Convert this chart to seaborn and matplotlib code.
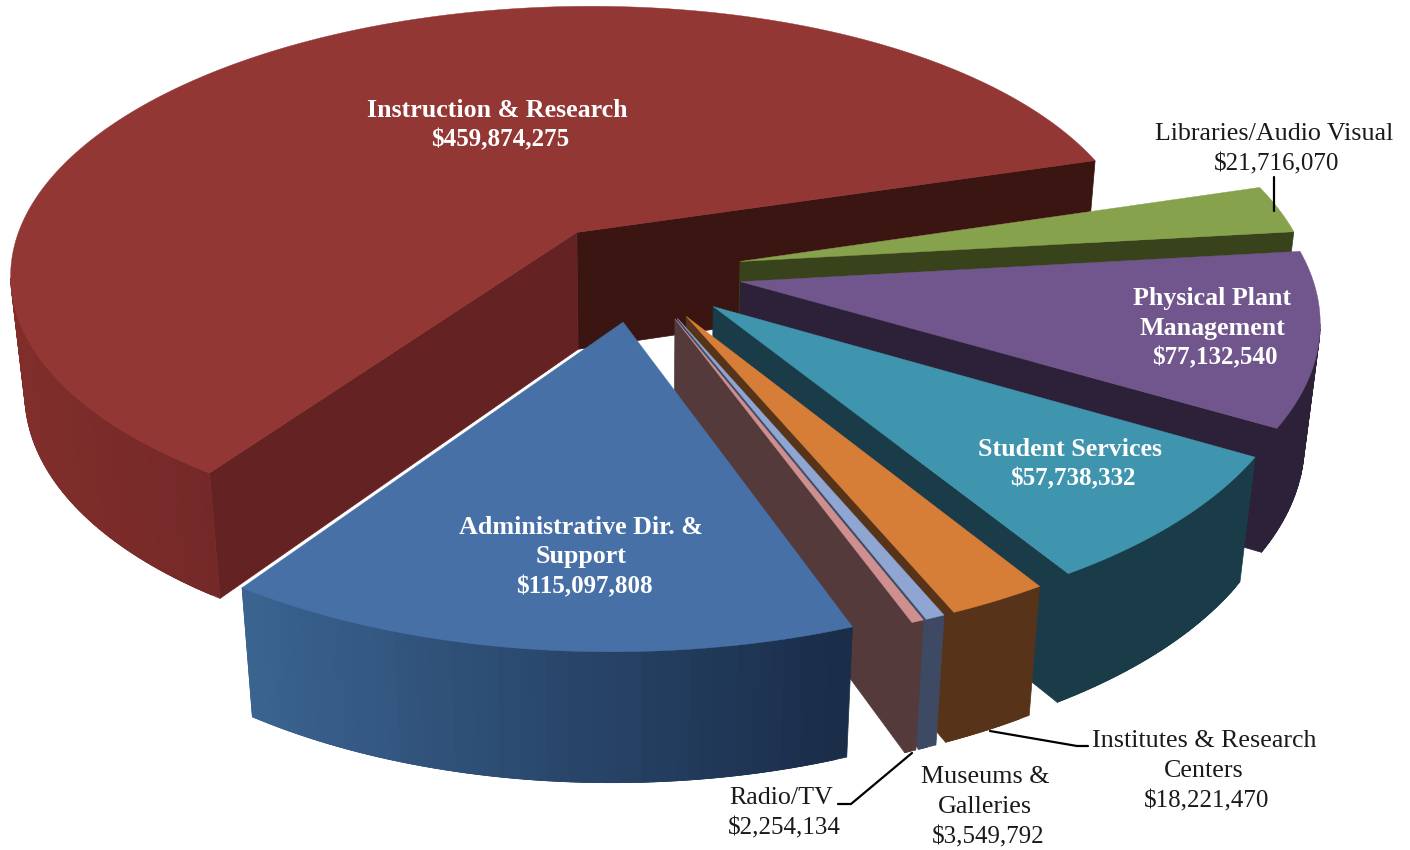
"""Pastel 3D explotado de gastos, dibujado con matplotlib y colores de seaborn."""

import numpy as np
import matplotlib.pyplot as plt
import seaborn as sns

# --- Datos (sentido horario desde Instruction & Research) ---
categorias = [
    ["Instruction & Research"],
    ["Libraries/Audio Visual"],
    ["Physical Plant", "Management"],
    ["Student Services"],
    ["Institutes & Research", "Centers"],
    ["Museums &", "Galleries"],
    ["Radio/TV"],
    ["Administrative Dir. &", "Support"],
]
valores = [459874275, 21716070, 77132540, 57738332, 18221470, 3549792, 2254134, 115097808]

# --- Estilo ---
color_cara = ["#933735", "#87A24C", "#70568C", "#3F94AE", "#D67E38", "#8FA5D2", "#D08F8F", "#4670A6"]
color_borde_izq = ["#812E2B", "#38421B", "#2D213A", "#1A3B48", "#57331A", "#3E4A63", "#553A3B", "#3A6390"]
color_borde_der = ["#742928", "#38421B", "#2D213A", "#1A3B48", "#57331A", "#3E4A63", "#553A3B", "#192C48"]
color_pared_ini = ["#642222", "#38421B", "#2D213A", "#1A3B48", "#57331A", "#3E4A63", "#553A3B", "#3A6390"]
color_pared_fin = ["#3B1512", "#38421B", "#2D213A", "#1A3B48", "#57331A", "#3E4A63", "#553A3B", "#3A6390"]

# posición de cada rótulo (centro x, y de la primera línea) y si va en blanco
pos_rotulo = [(497, 110), (1274, 134), (1212, 298), (1070, 449), (1204, 741), (985, 777), (781, 798), (581, 527)]
blanco = [True, False, True, True, False, False, False, True]

# --- Proyección del pastel ---
CX, CY = 637, 271.5
A, B, D = 570, 268, 121
S = -8
P, Q = 0.14, 0.023
INICIO = 214
EXPLOSION = 0.185


def proyectar(x, y, z):
    w = 1 - P * y + Q * z
    return CX + (A * x + S * y) / w, CY + (B * y + D * z) / w


sns.set_theme(style="white")
plt.rcParams["font.family"] = ["Liberation Serif", "DejaVu Serif"]

fig = plt.figure(figsize=(14.1, 8.5), dpi=100)
ax = fig.add_axes([0, 0, 1, 1])
ax.set_xlim(0, 1410)
ax.set_ylim(850, 0)
ax.axis("off")

total = sum(valores)
bordes = INICIO + np.concatenate([[0], np.cumsum(valores)]) / total * 360


def pared(p0, p1, color, zorder, lw=0.5):
    x = [proyectar(*p0, 0)[0], proyectar(*p1, 0)[0], proyectar(*p1, 1)[0], proyectar(*p0, 1)[0]]
    y = [proyectar(*p0, 0)[1], proyectar(*p1, 0)[1], proyectar(*p1, 1)[1], proyectar(*p0, 1)[1]]
    ax.fill(x, y, color=color, lw=lw, zorder=zorder)


for i in range(len(valores)):
    t0, t1 = np.radians(bordes[i]), np.radians(bordes[i + 1])
    medio = (t0 + t1) / 2
    ox, oy = EXPLOSION * np.sin(medio), -EXPLOSION * np.cos(medio)
    n = max(int(np.degrees(t1 - t0)), 2) + 1
    th = np.linspace(t0, t1, n)
    xs, ys = ox + np.sin(th), oy - np.cos(th)
    sx, sy = proyectar(xs, ys, 0)
    capa = i * 10 + 1

    # paredes interiores: sólo las que miran al observador
    if sx[0] < proyectar(ox, oy, 0)[0]:
        pared((ox, oy), (xs[0], ys[0]), color_pared_ini[i], capa + 1)
    if sx[-1] > proyectar(ox, oy, 0)[0]:
        pared((ox, oy), (xs[-1], ys[-1]), color_pared_fin[i], capa)

    # borde exterior con degradado según x; cada tramo solapa al siguiente para no dejar costuras
    visibles = [j for j in range(n - 1) if sx[j + 1] < sx[j]]
    if visibles:
        rampa = sns.blend_palette([color_borde_izq[i], color_borde_der[i]], 64)
        xmin, xmax = sx[visibles].min(), sx[visibles].max() + 1e-6
        for j in visibles:
            k = int((sx[j] - xmin) / (xmax - xmin) * 63)
            fin = min(j + 2, visibles[-1] + 1)
            pared((xs[j], ys[j]), (xs[fin], ys[fin]), rampa[min(max(k, 0), 63)], capa + 2)

    # cara superior
    cx, cy = proyectar(ox, oy, 0)
    ax.fill(np.r_[cx, sx], np.r_[cy, sy], color=color_cara[i], lw=0.3, zorder=capa + 3)

# --- Rótulos ---
for nombre, valor, (x, y), b in zip(categorias, valores, pos_rotulo, blanco):
    lineas = nombre + [f"${valor:,}"]
    for k, linea in enumerate(lineas):
        es_monto = k == len(lineas) - 1
        ax.text(x + 3 if es_monto else x, y + 30 * k, linea, ha="center", va="center",
                fontsize=18 if es_monto else 18.7,
                color="white" if b else "#1a1a1a", fontweight="bold" if b else "normal", zorder=200)

# --- Líneas guía ---
ax.plot([1274, 1274], [177, 211], color="black", lw=1.6, zorder=150)
ax.plot([838, 851, 912], [804, 804, 753], color="black", lw=1.6, zorder=150)
ax.plot([990, 1077, 1088], [731, 746, 746], color="black", lw=1.6, zorder=150)

fig.savefig("out.png", dpi=100)
